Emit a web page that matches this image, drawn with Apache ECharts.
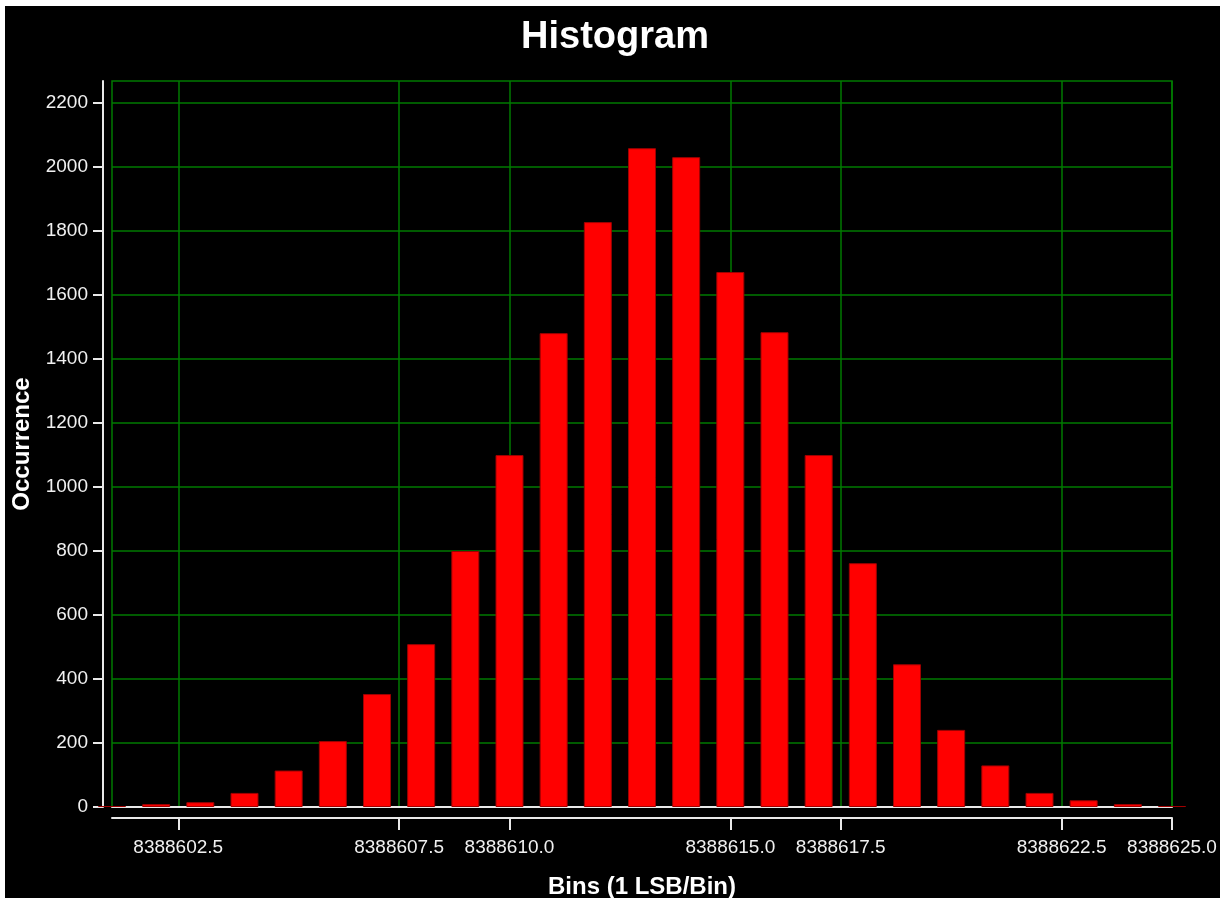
<!DOCTYPE html>
<html>
<head>
<meta charset="utf-8">
<script src="https://cdn.jsdelivr.net/npm/echarts@6/dist/echarts.min.js"></script>
<style>
  html, body { margin: 0; padding: 0; background: #ffffff; }
  #chart { position: absolute; left: 5px; top: 6px; width: 1215px; height: 892px; }
</style>
</head>
<body>
<div id="chart"></div>
<script>
// bins (1 LSB each) and how often each one occurred
const bins = [
  8388601, 8388602, 8388603, 8388604, 8388605, 8388606, 8388607, 8388608, 8388609,
  8388610, 8388611, 8388612, 8388613, 8388614, 8388615, 8388616, 8388617, 8388618,
  8388619, 8388620, 8388621, 8388622, 8388623, 8388624, 8388625
];
const occurrence = [
  3, 9, 15, 44, 114, 206, 353, 509, 800,
  1100, 1481, 1828, 2059, 2031, 1672, 1484, 1100, 762,
  446, 241, 130, 44, 21, 9, 3
];
const xTicks = [8388602.5, 8388607.5, 8388610.0, 8388615.0, 8388617.5, 8388622.5, 8388625.0];
const yTicks = [0, 200, 400, 600, 800, 1000, 1200, 1400, 1600, 1800, 2000, 2200];

const font = "'Liberation Sans', Arial, sans-serif";
const green = "#007a00";

const chart = echarts.init(document.getElementById("chart"));

let option = {
  backgroundColor: "#000000",
  animation: false,
  title: {
    text: "Histogram",
    left: 605,
    textAlign: "center",
    top: 8,
    textStyle: { color: "#ffffff", fontSize: 38, fontWeight: "bold", fontFamily: font },
  },
  grid: {
    left: 107,
    right: 48,
    top: 75,
    bottom: 91,
    outerBoundsMode: "none",
    containLabel: false,
    show: true,
    borderColor: green,
    borderWidth: 1.5,
    backgroundColor: "transparent",
  },
  xAxis: [
    {
      // labelled axis, drawn a little below the plot
      type: "value",
      min: bins[0],
      max: bins[bins.length - 1],
      position: "bottom",
      offset: 11,
      name: "Bins (1 LSB/Bin)",
      nameLocation: "middle",
      nameGap: 57,
      nameTextStyle: { color: "#ffffff", fontSize: 24, fontWeight: "bold", fontFamily: font },
      axisLine: { show: true, onZero: false, lineStyle: { color: "#e8e8e8", width: 2 } },
      axisTick: { show: true, length: 12, customValues: xTicks, lineStyle: { color: "#e8e8e8", width: 2 } },
      axisLabel: {
        customValues: xTicks,
        color: "#f0f0f0",
        fontSize: 19,
        fontFamily: font,
        margin: 20,
        formatter: (v) => v.toFixed(1),
      },
      splitLine: { show: true, lineStyle: { color: green, width: 1.5 } },
    },
    {
      // white zero line inside the plot
      type: "value",
      min: bins[0],
      max: bins[bins.length - 1],
      position: "bottom",
      offset: 0,
      axisLine: { show: true, onZero: false, lineStyle: { color: "#e8e8e8", width: 2 } },
      axisTick: { show: false },
      axisLabel: { show: false },
      splitLine: { show: false },
    },
  ],
  yAxis: {
    type: "value",
    min: 0,
    max: 2269,
    offset: 9,
    name: "Occurrence",
    nameLocation: "middle",
    nameRotate: 90,
    nameGap: 68,
    nameTextStyle: { color: "#ffffff", fontSize: 24, fontWeight: "bold", fontFamily: font },
    axisLine: { show: true, onZero: false, lineStyle: { color: "#e8e8e8", width: 2 } },
    axisTick: { show: true, length: 10, customValues: yTicks, lineStyle: { color: "#e8e8e8", width: 2 } },
    axisLabel: {
      customValues: yTicks,
      color: "#f0f0f0",
      fontSize: 19,
      fontFamily: font,
      margin: 15,
      formatter: (v) => String(v),
    },
    splitLine: { show: true, lineStyle: { color: green, width: 1.5 } },
  },
  series: [
    {
      type: "bar",
      xAxisIndex: 0,
      data: bins.map((b, i) => [b, occurrence[i]]),
      barWidth: 28,
      clip: true,
      itemStyle: { color: "#ff0000", borderColor: "#a00000", borderWidth: 1 },
    },
  ],
};
chart.setOption(option);
</script>
</body>
</html>
